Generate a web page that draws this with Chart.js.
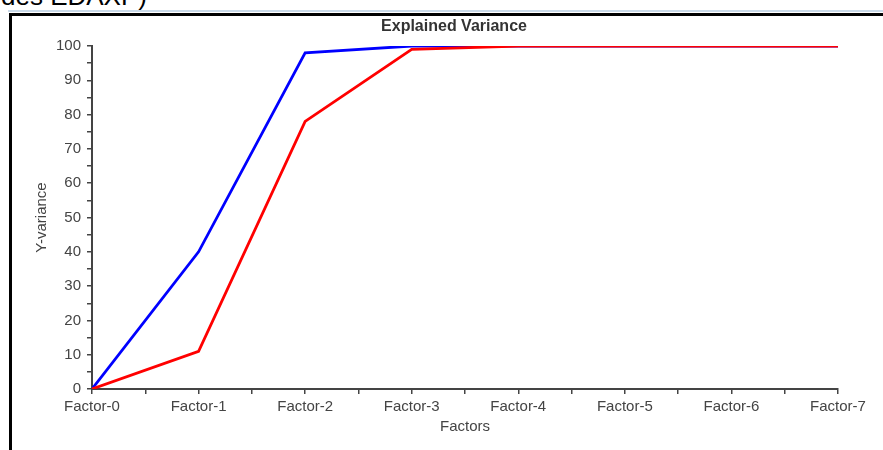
<!DOCTYPE html>
<html lang="en">

<head>
    <meta charset="UTF-8">
    <title>Explained Variance</title>
    <script src="https://cdn.jsdelivr.net/npm/chart.js"></script>
    <style>
        body { margin: 0; width: 883px; height: 450px; overflow: hidden; position: relative; background: #fff; font-family: "Liberation Sans", Arial, sans-serif; }
        .head { position: absolute; left: 1px; top: -17px; font-size: 26px; line-height: 26px; color: #000; white-space: nowrap; }
        .blueline { position: absolute; left: 8px; right: 0; top: 10px; height: 2px; background: #c9d9e8; }
        .frame { position: absolute; left: 9px; right: 0; top: 13px; bottom: 0; border-left: 3px solid #000; border-top: 3px solid #000; }
        #wrap { position: absolute; left: 12px; top: 0; width: 884px; height: 450px; }
    </style>
</head>

<body>
    <div class="head">des EDAXP)</div>
    <div class="blueline"></div>
    <div class="frame"></div>
    <div id="wrap">
        <canvas id="chart"></canvas>
    </div>

    <script>
        // dados
        var factors = ["Factor-0", "Factor-1", "Factor-2", "Factor-3", "Factor-4", "Factor-5", "Factor-6", "Factor-7"];
        var blueVals = [0, 40, 98, 100, 100, 100, 100, 100];
        var redVals = [0, 11, 78, 99, 100, 100, 100, 100];
        var chartTitle = "Explained Variance";

        var axisColor = "#444";
        var tickFont = { family: "Liberation Sans", size: 15 };

        function pts(vals) {
            return vals.map((v, i) => ({ x: i, y: v }));
        }

        // titulo centrado no canvas inteiro (o grafico original era mais largo que o recorte)
        var canvasTitle = {
            id: "canvasTitle",
            afterDraw(chart) {
                var c = chart.ctx;
                c.save();
                c.font = "bold 16px 'Liberation Sans'";
                c.fillStyle = "#333";
                c.textAlign = "center";
                c.textBaseline = "middle";
                c.fillText(chartTitle, chart.width / 2, 26.5);
                c.restore();
            }
        };

        var ctx = document.getElementById("chart").getContext("2d");
        new Chart(ctx, {
            type: "line",
            data: {
                datasets: [
                    {
                        label: "red",
                        data: pts(redVals),
                        borderColor: "#ff0000",
                        borderWidth: 2.8,
                        pointRadius: 0,
                        tension: 0,
                        fill: false
                    },
                    {
                        label: "blue",
                        data: pts(blueVals),
                        borderColor: "#0000ff",
                        borderWidth: 2.8,
                        pointRadius: 0,
                        tension: 0,
                        fill: false
                    }
                ]
            },
            options: {
                responsive: true,
                maintainAspectRatio: false,
                animation: false,
                layout: { padding: { left: 0, right: 58, top: 46, bottom: 0 } },
                plugins: {
                    legend: { display: false },
                    tooltip: { enabled: false },
                    title: { display: false }
                },
                scales: {
                    x: {
                        type: "linear",
                        min: 0,
                        max: factors.length - 1,
                        afterFit: s => { s.height = 61; },
                        border: { display: true, color: axisColor, width: 2 },
                        grid: { display: true, drawOnChartArea: false, drawTicks: true, tickLength: 5, color: axisColor, lineWidth: 1.5 },
                        ticks: {
                            stepSize: 0.5,
                            autoSkip: false,
                            maxRotation: 0,
                            padding: 4,
                            color: axisColor,
                            font: tickFont,
                            callback: v => Number.isInteger(v) ? factors[v] : ""
                        },
                        title: {
                            display: true,
                            text: "Factors",
                            color: axisColor,
                            font: tickFont,
                            padding: { top: 0, bottom: 14 }
                        }
                    },
                    y: {
                        min: 0,
                        max: 100,
                        afterFit: s => { s.width = 80; },
                        border: { display: true, color: axisColor, width: 2 },
                        grid: { display: true, drawOnChartArea: false, drawTicks: true, tickLength: 5, color: axisColor, lineWidth: 1.5 },
                        ticks: {
                            stepSize: 5,
                            autoSkip: false,
                            padding: 6,
                            color: axisColor,
                            font: tickFont,
                            callback: v => v % 10 === 0 ? v : ""
                        },
                        title: {
                            display: true,
                            text: "Y-variance",
                            color: axisColor,
                            font: { family: "Liberation Sans", size: 15 },
                            padding: { top: 21, bottom: 0 }
                        }
                    }
                }
            },
            plugins: [canvasTitle]
        });
    </script>
</body>

</html>
